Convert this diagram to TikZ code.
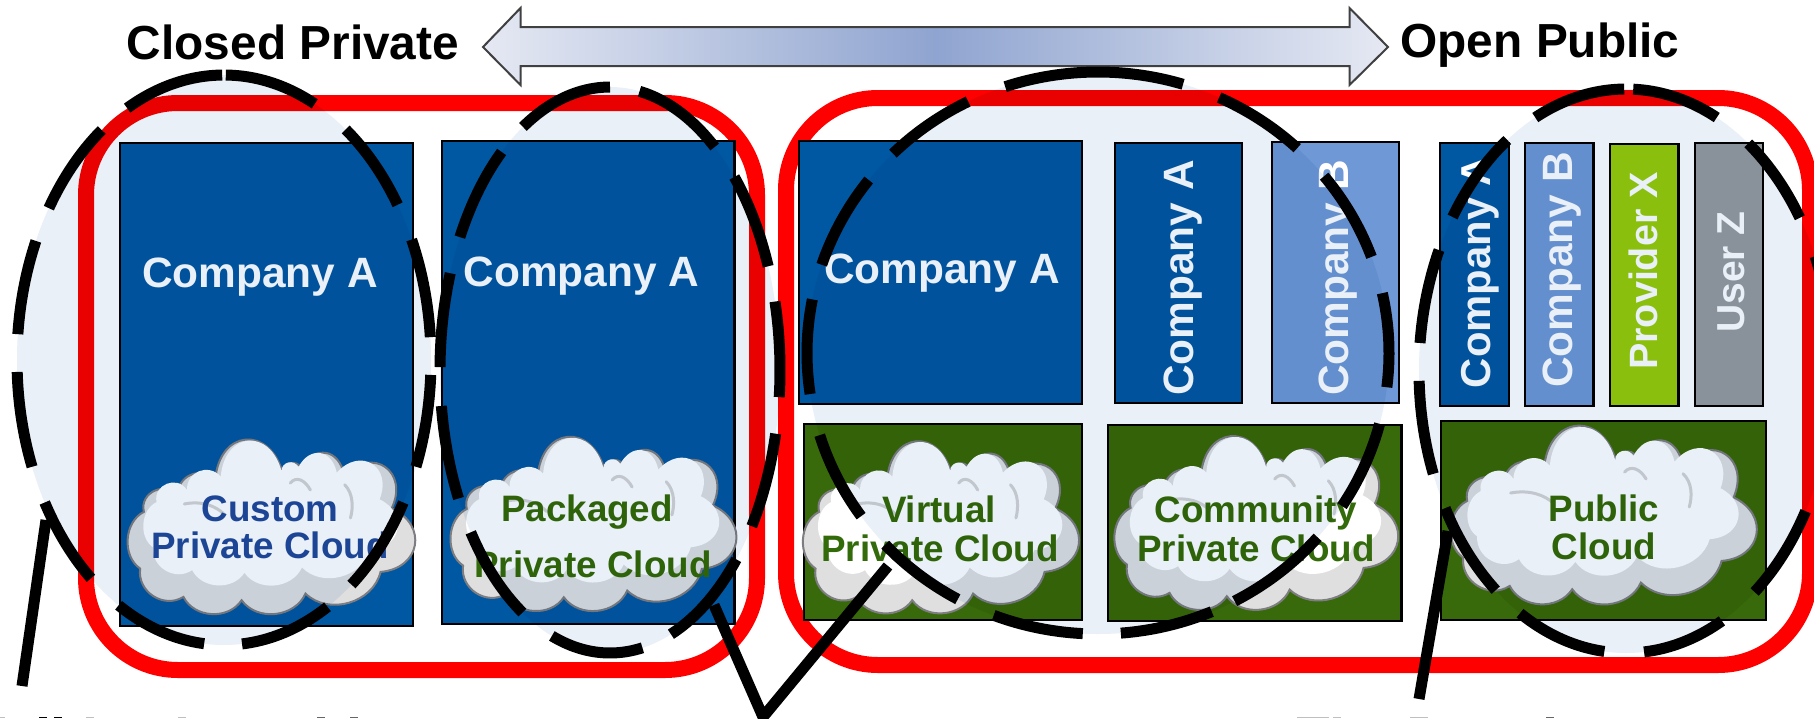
\documentclass[tikz,border=0pt]{standalone}
\usepackage{fontspec}
\setmainfont{Liberation Sans}
\usetikzlibrary{calc}
\definecolor{cblue}{HTML}{0058A2}
\definecolor{lblue}{HTML}{6E98D6}
\definecolor{cgreen}{HTML}{38690A}
\definecolor{lime}{HTML}{98CC0E}
\definecolor{ugray}{HTML}{979CA0}
\definecolor{tgreen}{HTML}{336A0A}
\definecolor{tblue}{HTML}{204A9B}
\definecolor{ellfill}{HTML}{E9F0F7}
\definecolor{cloudbase}{HTML}{DFDFDF}
\definecolor{cloudedge}{HTML}{7E7E82}
\definecolor{arrowmid}{HTML}{8FA4D0}
\definecolor{arrowend}{HTML}{E6E9F3}
\newcommand{\szfont}[1]{\fontsize{#1}{#1}\selectfont\bfseries}
\tikzset{
  x=1pt,y=-1pt,
  redbox/.style={draw=red,line width=16pt,rounded corners=92pt},
  co/.style={draw=black,line width=2.4pt,fill=#1},
  ellarea/.style={fill=ellfill},
  dashseg/.style={draw=black,line width=11pt,line cap=butt},
  link/.style={draw=black,line width=11pt,line cap=butt,line join=miter},
  htext/.style={anchor=base,text=white,inner sep=0pt,font=\szfont{42.4}},
  vtext/.style={anchor=base,rotate=90,text=white,inner sep=0pt,font=\szfont{#1}},
  ctext/.style={anchor=base,text=#1,inner sep=0pt,font=\szfont{36.8}},
  ttext/.style={anchor=base,text=black,inner sep=0pt,font=\szfont{47.8}},
}
% cloud outline in unit box
\newcommand{\cloudpts}{
  (.308,.223) to[bend left=80,looseness=1.9] (.544,.185)
  to[bend left=80,looseness=1.4] (.609,.156)
  to[bend left=70,looseness=1.6] (.758,.195)
  to[bend left=80,looseness=1.8] (.924,.385)
  to[bend left=75,looseness=1.6] (.885,.748)
  to[bend left=60,looseness=1.05] (.623,.872)
  to[bend left=60,looseness=1.05] (.400,.910)
  to[bend left=60,looseness=1.05] (.197,.891)
  to[bend left=65,looseness=1.15] (.046,.729)
  to[bend left=60,looseness=1.0] (.059,.405)
  to[bend left=80,looseness=1.4] (.177,.319)
  to[bend left=70,looseness=1.3] cycle
}
\newcommand{\cloudat}[4]{% x0 y0 w h
  \begin{scope}[shift={(#1,#2)},x=#3pt,y=-#4pt]
    \fill[cloudbase] \cloudpts;
    \draw[cloudedge,line width=2pt] \cloudpts;
  \end{scope}
  \begin{scope}[shift={(#1+.05*#3,#2+.025*#4)},x=.90*#3pt,y=-.80*#4pt]
    \fill[white] \cloudpts;
  \end{scope}
  \begin{scope}[shift={(#1,#2)},x=#3pt,y=-#4pt]
    \draw[cloudbase!95!black,line width=3pt,line cap=round]
      (.20,.36) .. controls (.26,.34) and (.31,.37) .. (.34,.42)
      (.57,.24) .. controls (.59,.20) and (.62,.22) .. (.64,.28)
      (.76,.25) .. controls (.79,.30) and (.79,.38) .. (.78,.44);
  \end{scope}
}
% dashed ellipse segment by parametric angle
\newcommand{\seg}[6]{\draw[dashseg] plot[domain=#5:#6,samples=24,smooth] ({#1+#3*cos(\x)},{#2-#4*sin(\x)});}
\begin{document}
\begin{tikzpicture}
\useasboundingbox (0,0) rectangle (1814,718);
\clip (0,0) rectangle (1814,718);
\fill[white] (0,0) rectangle (1814,718);

% red frames
\draw[redbox] (86,103) rectangle (757,670);
\draw[redbox] (786,98) rectangle (1810,665);

% arrow
\draw[draw=black!75,line width=2pt,left color=arrowend,right color=arrowend,middle color=arrowmid]
  (483,47) -- (520.5,8) -- (520.5,27) -- (1349.5,27) -- (1349.5,8) -- (1388,47)
  -- (1349.5,85) -- (1349.5,66) -- (520.5,66) -- (520.5,85) -- cycle;

% company boxes
\draw[co=cblue] (120,143) rectangle (413,626);
\draw[co=cblue] (442,141) rectangle (734.5,624);
\draw[co=cblue] (799,141) rectangle (1082,404);
\draw[co=cblue] (1115,143) rectangle (1242,403);
\draw[co=lblue] (1272,142) rectangle (1399,403);
\draw[co=cblue] (1440,143) rectangle (1509,406);
\draw[co=lblue] (1525,143) rectangle (1593.5,406);
\draw[co=lime] (1610,144) rectangle (1678.5,406);
\draw[co=ugray] (1695,143) rectangle (1763,406);
% infrastructure boxes
\draw[co=cgreen] (804,424) rectangle (1082,620);
\draw[co=cgreen] (1108,425) rectangle (1401.5,621);
\draw[co=cgreen] (1441,421) rectangle (1766,620);

% clouds
\cloudat{127}{441}{286.5}{175}
\cloudat{450}{438}{284.5}{175}
\cloudat{803}{441}{273}{175}
\cloudat{1114}{437}{282}{175}
\cloudat{1449}{430}{308}{175}

% labels
\node[ttext] (closed) at (293,59) {Closed Private};
\node[ttext] (open) at (1540,57) {Open Public};
\node[htext] (a1) at (260,287) {Company A};
\node[htext] (a2) at (581.5,286) {Company A};
\node[htext] (a3) at (942,283) {Company A};
\node[vtext=42.4] (a4) at (1193,278) {Company A};
\node[vtext=42.4] (b1) at (1348,278) {Company B};
\node[vtext=41.8] (a5) at (1490,272) {Company A};
\node[vtext=42.4] (b2) at (1572,270) {Company B};
\node[vtext=39.5] (px) at (1657,271) {Provider X};
\node[vtext=39] (uz) at (1744.5,272) {User Z};
\node[ctext=tblue] (c1a) at (270,521) {Custom};
\node[ctext=tblue] (c1b) at (270,558) {Private Cloud};
\node[ctext=tgreen] (c2a) at (587,521) {Packaged};
\node[ctext=tgreen] (c2b) at (593,577) {Private Cloud};
\node[ctext=tgreen] (c3a) at (939,522) {Virtual};
\node[ctext=tgreen] (c3b) at (940,561) {Private Cloud};
\node[ctext=tgreen] (c4a) at (1256,522) {Community};
\node[ctext=tgreen] (c4b) at (1256,561) {Private Cloud};
\node[ctext=tgreen] (c5a) at (1604,521) {Public};
\node[ctext=tgreen] (c5b) at (1604,559) {Cloud};

% translucent ellipses
\begin{scope}[blend mode=multiply]
\fill[ellarea] (224,360) ellipse [x radius=207,y radius=285];
\fill[ellarea] (610,370) ellipse [x radius=170,y radius=283];
\fill[ellarea] (1098,353) ellipse [x radius=291,y radius=281];
\fill[ellarea] (1626,371) ellipse [x radius=207,y radius=282];
\end{scope}

% dashes: ellipse 1
\foreach \a/\b in {89.5/64,54/33,25/4.6,-3/-22,-30/-52,-60/-85,-95.5/-120.6,-130/-150,-158/-177.6,174.8/155.3,147.8/126.2,117.9/90.5}{\seg{224}{360}{207}{285}{\a}{\b}}
% ellipse 2
\foreach \a/\b in {80/52,43/21.5,14/-5.5,-13/-33.5,-42/-69,-79/-110,-121/-145,-153/-172.7,179.4/160,152/129.6,120.8/90}{\seg{610}{370}{170}{283}{\a}{\b}}
% ellipse 3
\foreach \a/\b in {134.8/116.5,108.6/73,65.4/46.8,39/20,12.3/-7,-14.6/-33,-41/-62,-67/-85.5,-93/-111,-118.8/-137,-144.5/-163,188.4/169,161.7/142}{\seg{1098}{353}{291}{281}{\a}{\b}}
% ellipse 4
\foreach \a/\b in {88/64,53.8/32.9,24/4,-2/-21,-29.8/-51.6,-62.4/-85,-96/-120.8,-129/-150.9,-158.6/-178,174.3/154.6,146.9/125,116/90.5}{\seg{1626}{371}{207}{282}{\a}{\b}}

% connectors
\coordinate (l1a) at (22,686);
\coordinate (l1b) at (46,520);
\coordinate (l2a) at (714,605);
\coordinate (l2b) at (763,717);
\coordinate (l2c) at (888,566);
\coordinate (l3a) at (1419,699);
\coordinate (l3b) at (1448,531);
\draw[link] (l1a) -- (l1b);
\draw[link] (l2a) -- (l2b) -- (l2c);
\draw[link] (l3a) -- (l3b);

% tops of the cut-off bottom text
\foreach \p/\q/\c in {0/5/black!25,39/47/black,54/62/black,86/94/black!25,178/186/black!25,317/325/black!60,350/358/black!60,1297/1329/black!25,1333/1341/black!25,1410/1428/black!25,1546/1554/black!60}{
  \fill[\c] (\p,717) rectangle (\q,718);
}
\end{tikzpicture}
\end{document}
